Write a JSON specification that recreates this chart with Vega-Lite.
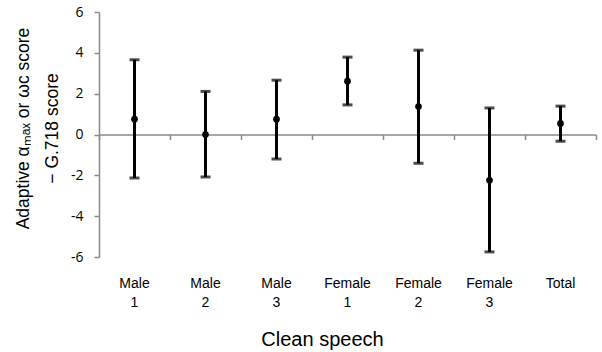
{
  "$schema": "https://vega.github.io/schema/vega-lite/v6.json",
  "width": 497,
  "height": 245,
  "autosize": {"type": "none"},
  "padding": {"left": 99, "top": 12, "right": 6, "bottom": 95},
  "background": "white",
  "config": {"view": {"stroke": null}, "font": "Liberation Sans"},
  "data": {
    "values": [
      {"cat": "Male 1", "mean": 0.75, "lo": -2.13, "hi": 3.66},
      {"cat": "Male 2", "mean": 0.0, "lo": -2.08, "hi": 2.11},
      {"cat": "Male 3", "mean": 0.75, "lo": -1.2, "hi": 2.66},
      {"cat": "Female 1", "mean": 2.61, "lo": 1.45, "hi": 3.79},
      {"cat": "Female 2", "mean": 1.37, "lo": -1.41, "hi": 4.13},
      {"cat": "Female 3", "mean": -2.24, "lo": -5.75, "hi": 1.3},
      {"cat": "Total", "mean": 0.54, "lo": -0.33, "hi": 1.39}
    ]
  },
  "resolve": {"axis": {"x": "independent"}},
  "layer": [
    {
      "mark": {"type": "rule", "color": "black", "strokeWidth": 3},
      "encoding": {
        "x": {
          "field": "cat", "type": "nominal", "sort": null,
          "scale": {"type": "band", "paddingInner": 0, "paddingOuter": 0},
          "axis": {
            "orient": "bottom", "offset": -122.5, "labels": false, "title": null,
            "domainColor": "#8a8a8a", "domainWidth": 1.5, "tickColor": "#8a8a8a", "tickWidth": 1.5,
            "tickSize": 5, "tickBand": "extent", "grid": false, "zindex": 0
          }
        },
        "y": {
          "field": "lo", "type": "quantitative",
          "scale": {"domain": [-6, 6], "nice": false, "zero": false},
          "axis": {
            "values": [-6, -4, -2, 0, 2, 4, 6],
            "grid": false,
            "domainColor": "#8a8a8a", "domainWidth": 1.5, "tickColor": "#8a8a8a", "tickWidth": 1.5,
            "tickSize": 5,
            "labelExpr": "replace(datum.label, '−', '-')",
            "labelFont": "Open Sans", "labelFontSize": 14, "labelColor": "#000000", "labelPadding": 11,
            "title": ["Adaptive αₘₐₓ or ωc score", "− G.718 score"],
            "titleFont": "Liberation Sans", "titleFontSize": 17.5, "titleFontWeight": "normal", "titleColor": "#000000",
            "titleAngle": -90, "titleAlign": "center", "titleBaseline": "middle",
            "titleX": -76, "titleY": 116, "titleLineHeight": 29
          }
        },
        "y2": {"field": "hi"}
      }
    },
    {
      "mark": {"type": "tick", "color": "black", "thickness": 3, "size": 10},
      "encoding": {
        "x": {
          "field": "cat", "type": "nominal", "sort": null,
          "axis": {
            "orient": "bottom", "domain": false, "ticks": false,
            "labelAngle": 0, "labelExpr": "split(datum.value, ' ')",
            "labelFont": "Liberation Sans", "labelFontSize": 14, "labelColor": "#000000",
            "labelLineHeight": 19.5, "labelPadding": 19, "labelBaseline": "top",
            "title": "Clean speech", "titleFont": "Liberation Sans", "titleFontSize": 20,
            "titleFontWeight": "normal", "titleColor": "#000000",
            "titleX": 223, "titleY": 88, "titleBaseline": "alphabetic", "titleAnchor": "middle", "titleAlign": "center"
          }
        },
        "y": {"field": "lo", "type": "quantitative"}
      }
    },
    {
      "mark": {"type": "tick", "color": "black", "thickness": 3, "size": 10},
      "encoding": {
        "x": {"field": "cat", "type": "nominal", "sort": null, "axis": null},
        "y": {"field": "hi", "type": "quantitative"}
      }
    },
    {
      "mark": {"type": "point", "filled": true, "color": "black", "opacity": 1, "size": 45},
      "encoding": {
        "x": {"field": "cat", "type": "nominal", "sort": null, "axis": null},
        "y": {"field": "mean", "type": "quantitative"}
      }
    }
  ]
}
